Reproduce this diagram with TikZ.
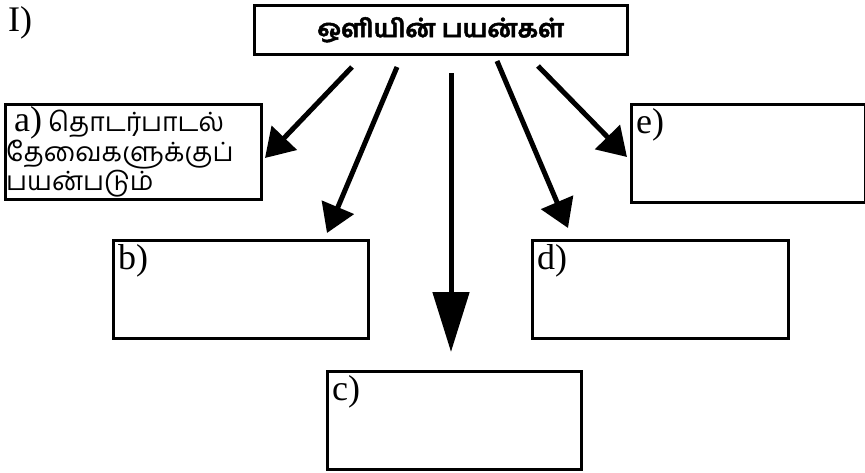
\documentclass[tikz,border=0pt]{standalone}
\usepackage{fontspec}
\setmainfont{Liberation Serif}
\newfontfamily\tamil[Script=Tamil]{Hind Madurai}
\newfontfamily\tamilheavy[Script=Tamil,FakeBold=2,BoldFeatures={FakeBold=2}]{Hind Madurai}
\usetikzlibrary{arrows.meta}
\newcommand{\answerbox}[5]% name, x, y, width, label
{\node[box,minimum width=#4pt,label={[tag]north west:#5}] (#1) at (#2,#3) {};
}

\begin{document}
\begin{tikzpicture}[x=1pt,y=-1pt,
  box/.style={draw,line width=2.5pt,anchor=north west,inner sep=0pt,minimum height=98pt},
  tag/.style={anchor=north west,inner sep=0pt,xshift=6pt,yshift=-5pt,font=\fontsize{36}{29}\selectfont},
  feed/.style={line width=5pt,-{Triangle[length=28pt,width=34pt]}}]
  \useasboundingbox (0,0) rectangle (865,472);
  \node[anchor=north west,inner sep=0pt,font=\fontsize{36}{36}\selectfont] (part) at (8,6) {I)};
  \node[box,minimum width=373pt,minimum height=49pt] (title) at (253,4)
    {\tamilheavy\bfseries\fontsize{25}{25}\selectfont ஒளியின் பயன்கள்};
  \node[box,minimum width=256pt,minimum height=95pt] (a) at (4,103) {};
  \node[anchor=north west,inner sep=0pt,align=left,font=\fontsize{36}{29}\selectfont] (a-text) at (6,106)
    {\hspace*{8pt}a)\hspace{6pt}{\tamil\fontsize{26.5}{29}\selectfont தொடர்பாடல்}\\
     {\tamil\fontsize{26.5}{29}\selectfont தேவைகளுக்குப்}\\
     {\tamil\fontsize{26.5}{29}\selectfont பயன்படும்}};
  \answerbox{b}{112}{239}{255}{b)}
  \answerbox{c}{326}{370}{254}{c)}
  \answerbox{d}{531}{239}{256}{d)}
  \answerbox{e}{630}{103}{234}{e)}
  % arrows from the title
  \coordinate (a-from) at (352,67);
  \coordinate (a-to) at (265,158);
  \coordinate (b-from) at (397,67);
  \coordinate (b-to) at (327,233);
  \coordinate (c-from) at (451,73);
  \coordinate (c-to) at (451,352);
  \coordinate (d-from) at (497,61);
  \coordinate (d-to) at (568,228);
  \coordinate (e-from) at (538,66);
  \coordinate (e-to) at (627,157);
  \draw[feed] (a-from) -- (a-to);
  \draw[feed] (b-from) -- (b-to);
  \draw[line width=5pt,-{Triangle[length=60pt,width=36pt]}] (c-from) -- (c-to);
  \draw[feed] (d-from) -- (d-to);
  \draw[feed] (e-from) -- (e-to);
\end{tikzpicture}
\end{document}
